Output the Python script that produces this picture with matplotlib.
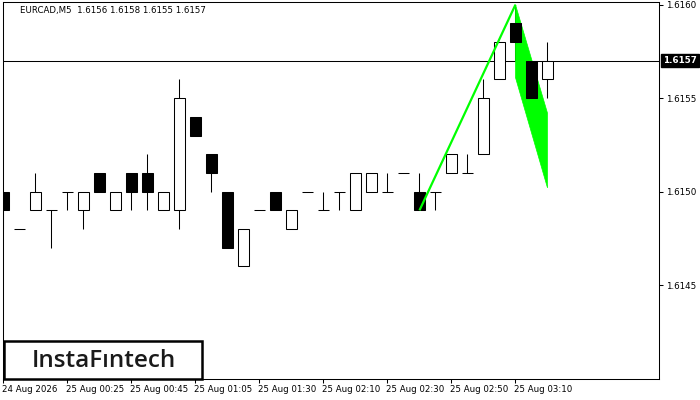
import matplotlib
matplotlib.use("Agg")
import matplotlib.pyplot as plt
from matplotlib.patches import Polygon, Rectangle
import matplotlib.transforms as mtransforms

# candle data (EURCAD M5)
opens = [1.6150, 1.6148, 1.6149, 1.6149, 1.6150, 1.6149, 1.6151, 1.6149, 1.6151, 1.6151,
         1.6149, 1.6149, 1.6154, 1.6152, 1.6150, 1.6146, 1.6149, 1.6150, 1.6148, 1.6150,
         1.6149, 1.6150, 1.6149, 1.6150, 1.6150, 1.6151, 1.6150, 1.6150, 1.6151, 1.6151,
         1.6152, 1.6156, 1.6159, 1.6157, 1.6156]
highs = [1.6150, 1.6148, 1.6151, 1.6149, 1.6150, 1.6150, 1.6151, 1.6150, 1.6151, 1.6152,
         1.6150, 1.6156, 1.6154, 1.6152, 1.6150, 1.6148, 1.6149, 1.6150, 1.6149, 1.6150,
         1.6150, 1.6150, 1.6151, 1.6151, 1.6151, 1.6151, 1.6151, 1.6150, 1.6152, 1.6152,
         1.6156, 1.6158, 1.6160, 1.6157, 1.6158]
lows = [1.6148, 1.6148, 1.6149, 1.6147, 1.6149, 1.6148, 1.6150, 1.6149, 1.6149, 1.6149,
        1.6149, 1.6148, 1.6153, 1.6150, 1.6147, 1.6146, 1.6149, 1.6149, 1.6148, 1.6150,
        1.6149, 1.6149, 1.6149, 1.6150, 1.6150, 1.6151, 1.6149, 1.6149, 1.6151, 1.6151,
        1.6152, 1.6156, 1.6157, 1.6155, 1.6155]
closes = [1.6149, 1.6148, 1.6150, 1.6149, 1.6150, 1.6150, 1.6150, 1.6150, 1.6150, 1.6150,
          1.6150, 1.6155, 1.6153, 1.6151, 1.6147, 1.6148, 1.6149, 1.6149, 1.6149, 1.6150,
          1.6149, 1.6150, 1.6151, 1.6151, 1.6150, 1.6151, 1.6149, 1.6150, 1.6152, 1.6151,
          1.6155, 1.6158, 1.6158, 1.6155, 1.6157]

tick_idx = [0, 4, 8, 12, 16, 20, 24, 28, 32]
tick_labels = ["24 Aug 2026", "25 Aug 00:25", "25 Aug 00:45", "25 Aug 01:05", "25 Aug 01:30",
               "25 Aug 02:10", "25 Aug 02:30", "25 Aug 02:50", "25 Aug 03:10"]
price_ticks = [1.6145, 1.6150, 1.6155, 1.6160]
last_price = 1.6157

# bullish flag pattern: pole and flag
pole_x = [26, 32]
pole_y = [1.6149, 1.6160]
flag_x = [32, 33, 34, 34, 32]
flag_y = [1.6160, 1.61571, 1.61542, 1.61502, 1.61561]

title = "EURCAD,M5  1.6156 1.6158 1.6155 1.6157"

fig = plt.figure(figsize=(7, 4), dpi=100, facecolor="white")
ax = fig.add_axes([2.5 / 700, 21 / 400, 656.5 / 700, 377 / 400])
ax.set_facecolor("white")

lw = 0.75
bw = 0.66
n = len(opens)
for i in range(n):
    o, h, l, c = opens[i], highs[i], lows[i], closes[i]
    top = max(o, c)
    bot = min(o, c)
    ax.vlines(i, l, h, color="black", linewidth=lw, zorder=2)
    if abs(o - c) < 1e-9:
        ax.hlines(o, i - bw / 2, i + bw / 2, color="black", linewidth=lw, zorder=3)
    else:
        fc = "white" if c > o else "black"
        ax.add_patch(Rectangle((i - bw / 2, bot), bw, top - bot, facecolor=fc,
                               edgecolor="black", linewidth=lw, zorder=3))

# pattern: flag fill over wicks but under bodies, pole line on top
ax.add_patch(Polygon(list(zip(flag_x, flag_y)), closed=True, facecolor="#00ff00",
                     edgecolor="#00ff00", linewidth=0.5, zorder=2.5))
ax.plot(pole_x, pole_y, color="#00ff00", linewidth=1.6, zorder=4, solid_capstyle="butt")

# last price line
ax.axhline(last_price, color="black", linewidth=lw, zorder=1)

ax.set_xlim(-0.0625, 40.97)
ax.set_ylim(1.613998, 1.616014)

ax.yaxis.tick_right()
ax.set_yticks(price_ticks)
ax.set_yticklabels([f"{p:.4f}" for p in price_ticks])
ax.tick_params(axis="y", direction="out", length=3, width=lw, labelsize=6.3, pad=2)
ax.set_xticks(tick_idx)
ax.set_xticklabels(tick_labels, ha="left")
ax.tick_params(axis="x", direction="out", length=3, width=lw, labelsize=6.2, pad=1)
for lab in ax.get_xticklabels():
    lab.set_transform(lab.get_transform() + mtransforms.ScaledTranslation(-1 / 100, 0, fig.dpi_scale_trans))

for sp in ax.spines.values():
    sp.set_color("black")
    sp.set_linewidth(lw)

# current price label
trans = mtransforms.blended_transform_factory(ax.transAxes, ax.transData)
ax.text(1.006, last_price, f"{last_price:.4f}", transform=trans, ha="left", va="center",
        fontsize=6.3, color="white", fontweight="bold",
        bbox=dict(boxstyle="square,pad=0.25", facecolor="black", edgecolor="black"), zorder=6,
        clip_on=False)

ax.text(18 / 656.5, 1 - 9 / 377, title, transform=ax.transAxes, ha="left", va="center",
        fontsize=6.2, color="black")

# logo
ax.add_patch(Rectangle((1 / 656.5, 0.0), 198 / 656.5, 38 / 377, transform=ax.transAxes,
                       facecolor="white", edgecolor="black", linewidth=1.8, zorder=7, clip_on=False))
ax.text(101 / 656.5, 18 / 377, "InstaF\u0131ntech", transform=ax.transAxes, ha="center",
        va="center", fontsize=17.5, color="#1a1a1a", zorder=8, family="Open Sans",
        fontweight="semibold")

fig.savefig("out.png", dpi=100, facecolor="white")
